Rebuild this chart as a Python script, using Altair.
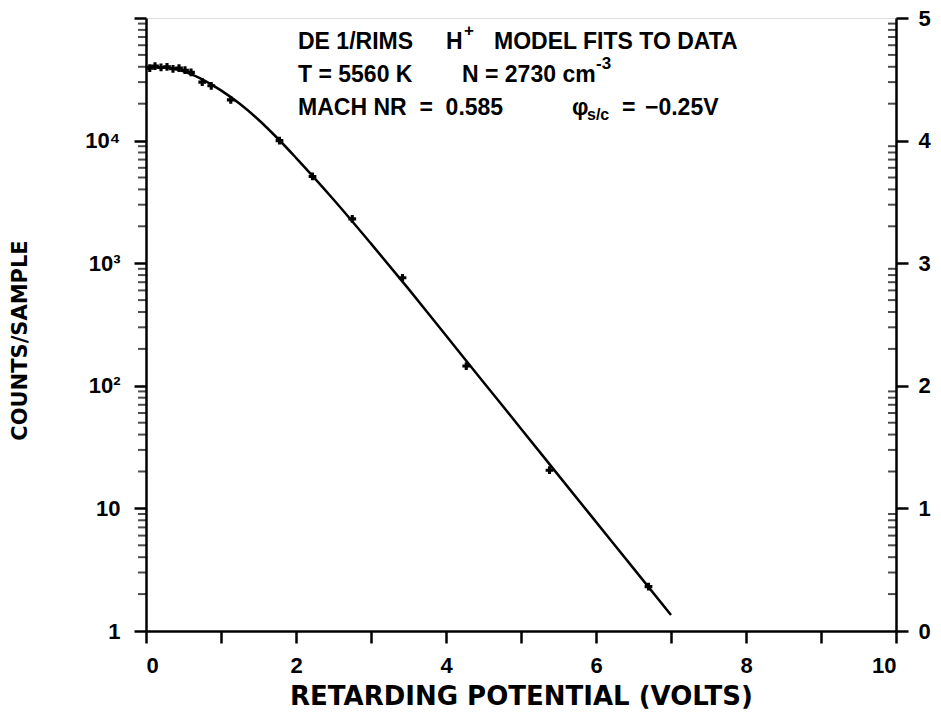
import altair as alt
import pandas as pd

# ---- data ----
# model fit curve (retarding potential in volts, counts/sample)
model_x = [0.0, 0.25, 0.5, 0.75, 1.0, 1.25, 1.5, 1.75, 2.0, 2.5, 3.0, 3.5, 4.0, 4.5, 5.0, 5.5, 6.0, 6.5, 7.0]
model_y = [39800, 39400, 36700, 31600, 25700, 19950, 14800, 10500, 7240, 3310, 1445, 617, 257, 107, 44.7, 18.6, 7.76, 3.24, 1.35]

# measured data points
data_x = [0.05, 0.12, 0.2, 0.28, 0.36, 0.44, 0.52, 0.6, 0.75, 0.87, 1.13, 1.78, 2.22, 2.75, 3.42, 4.27, 5.38, 6.7]
data_y = [39000, 40500, 39500, 40000, 38500, 39000, 37500, 36000, 30000, 28000, 21500, 10000, 5100, 2300, 760, 145, 20.5, 2.3]

# axis ticks / labels
x_ticks = [0, 1, 2, 3, 4, 5, 6, 7, 8, 9, 10]
y_major = [1, 10, 100, 1000, 10000, 100000]
y_left_labels = ["1", "10", "10²", "10³", "10⁴", ""]
y_minor_mult = [2, 3, 4, 5, 6, 7, 8, 9]
y_minor = [m * d for d in [1, 10, 100, 1000, 10000] for m in y_minor_mult]

LFONT = "Liberation Sans"
TFONT = "DejaVu Sans"
NB = "\u00a0"

model_df = pd.DataFrame({"v": model_x, "c": model_y})
data_df = pd.DataFrame({"v": data_x, "c": data_y})
minor_df = pd.DataFrame({"c": y_minor})

xscale = alt.Scale(domain=[0, 10], nice=False, zero=False)
yscale = alt.Scale(type="log", domain=[1, 100000], nice=False)

x_axis = alt.Axis(values=x_ticks, title="RETARDING POTENTIAL (VOLTS)",
                  labelExpr="datum.value % 2 == 0 ? datum.label : ''",
                  tickSize=12, tickWidth=2.5, domainWidth=2.5,
                  domainColor="black", tickColor="black",
                  labelFontSize=22, labelFont=LFONT, labelFontWeight="bold",
                  labelPadding=12, titleFontSize=26, titleFont=TFONT,
                  titleFontWeight="bold", titlePadding=7, grid=False,
                  labelColor="black", titleColor="black")

label_arr = "[" + ",".join("'" + s + "'" for s in y_left_labels) + "]"

line = alt.Chart(model_df).mark_line(color="black", strokeWidth=2.5,
                                     interpolate="monotone").encode(
    x=alt.X("v:Q", scale=xscale, axis=x_axis),
    y=alt.Y("c:Q", scale=yscale,
            axis=alt.Axis(values=y_major, orient="left", title="COUNTS/SAMPLE",
                          labelExpr=label_arr + "[round(log(datum.value)/LN10)]",
                          tickSize=12, tickWidth=2.5, domainWidth=2.5,
                          domainColor="black", tickColor="black",
                          labelFontSize=22, labelFont=LFONT, labelFontWeight="bold",
                          labelPadding=14, titleFontSize=21, titleFont=TFONT,
                          titleFontWeight="bold", titleX=-116, titleY=322,
                          grid=False, labelColor="black", titleColor="black")),
)

points = alt.Chart(data_df).mark_point(shape="cross", filled=True, color="black",
                                       size=60, opacity=1).encode(
    x=alt.X("v:Q", scale=xscale, axis=x_axis),
    y=alt.Y("c:Q", scale=yscale,
            axis=alt.Axis(values=y_major, orient="right", title=None,
                          labelExpr="format(round(log(datum.value)/LN10), 'd')",
                          tickSize=12, tickWidth=2.5, domainWidth=2.5,
                          domainColor="black", tickColor="black",
                          labelFontSize=22, labelFont=LFONT, labelFontWeight="bold",
                          labelPadding=10, grid=False, labelColor="black")),
)

minor_left = alt.Chart(minor_df).mark_tick(orient="horizontal", size=8, thickness=2,
                                           color="black", xOffset=-4).encode(
    x=alt.X(datum=0, scale=xscale, axis=x_axis),
    y=alt.Y("c:Q", scale=yscale, axis=None),
)

minor_right = alt.Chart(minor_df).mark_tick(orient="horizontal", size=8, thickness=2,
                                            color="black", xOffset=-4).encode(
    x=alt.X(datum=10, scale=xscale, axis=x_axis),
    y=alt.Y("c:Q", scale=yscale, axis=None),
)

# annotation text (pixel positions relative to the plot area, which starts at 146,18)


def txt(s, x, y, size=23):
    return alt.Chart().mark_text(font=LFONT, fontWeight="bold", fontSize=size,
                                 color="black", align="left", baseline="middle",
                                 text=s).encode(x=alt.value(x - 146), y=alt.value(y - 18))


texts = [
    txt("DE 1/RIMS", 298, 42),
    txt("H", 446, 42),
    txt("+", 464, 31, 17),
    txt("MODEL FITS TO DATA", 494, 42),
    txt("T = 5560 K", 298, 75),
    txt("N = 2730 cm", 462, 75),
    txt("-3", 596, 64, 17),
    txt("MACH NR" + NB + " =" + NB + " 0.585", 298, 108),
    txt("φ", 572, 108),
    txt("s/c", 587, 115, 16),
    txt("=", 622, 108),
    txt("−0.25V", 645, 108),
]

chart = alt.layer(line, points, minor_left, minor_right, *texts).resolve_axis(
    y="independent"
).properties(
    width=750, height=613,
    padding={"left": 146, "top": 18, "right": 45, "bottom": 92},
    autosize=alt.AutoSizeParams(type="none"),
).configure_view(stroke="black", strokeWidth=2.5).configure(background="white")

chart.save("out.html", embed_options={"renderer": "svg", "actions": False})
